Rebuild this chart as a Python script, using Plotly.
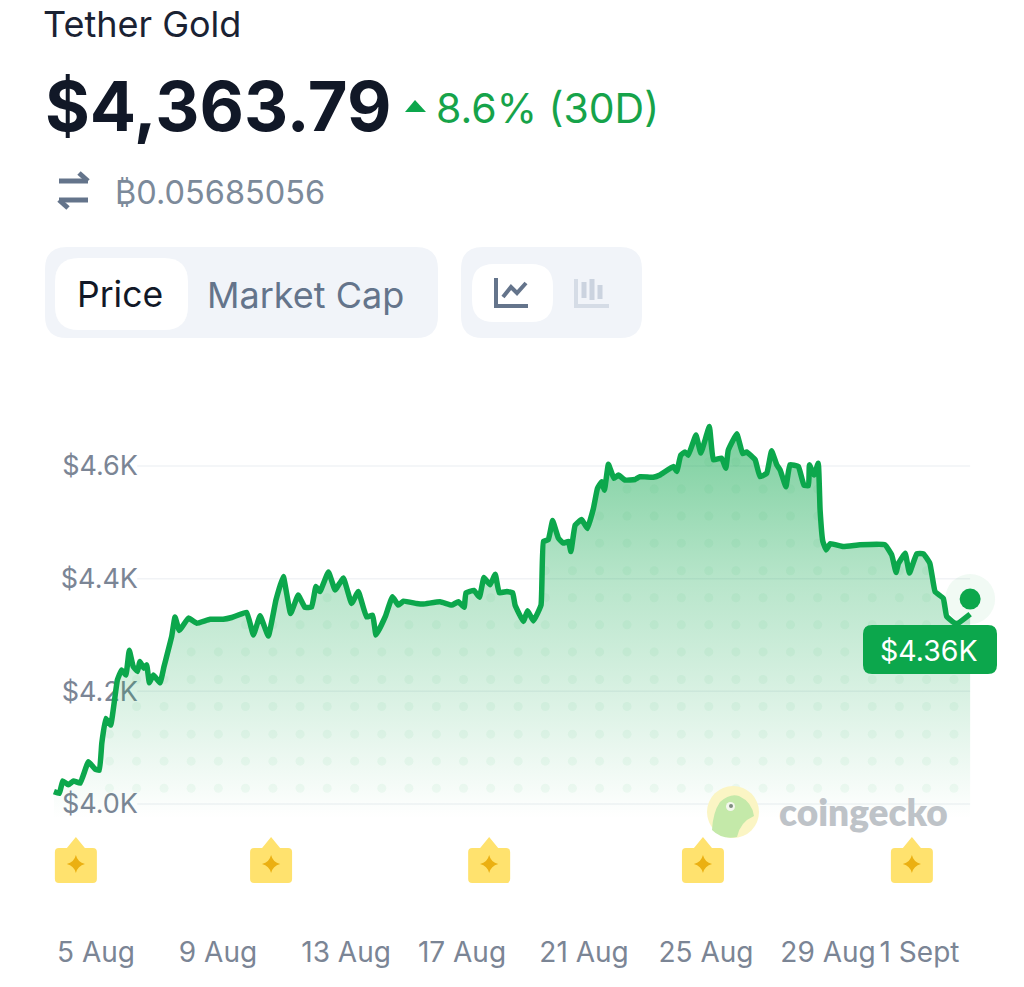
import numpy as np
import plotly.graph_objects as go

# ---------- data ----------
coin_name = "Tether Gold"
price_text = "$4,363.79"
change_text = "8.6% (30D)"
btc_text = "₿0.05685056"
tag_text = "$4.36K"
current_price = 4363.79
last_day = 33.66

# day of August (32 = 1 Sept)
days = [3.62,3.80,3.91,4.09,4.26,4.48,4.75,4.97,5.11,5.19,5.32,5.48,5.70,5.84,5.98,6.09,6.22,6.36,6.44,6.57,
        6.66,6.75,6.88,7.10,7.23,7.48,7.59,7.73,8.03,8.30,8.74,9.17,9.45,9.94,10.16,10.38,10.65,10.90,11.14,11.38,
        11.63,11.85,12.07,12.21,12.34,12.62,12.84,13.11,13.38,13.60,13.87,14.07,14.18,14.48,14.72,14.91,15.08,15.51,15.73,16.28,
        16.66,16.88,17.07,17.13,17.39,17.57,17.72,17.92,18.09,18.22,18.47,18.66,18.74,19.01,19.15,19.34,19.59,19.67,19.83,19.97,
        20.16,20.32,20.49,20.57,20.71,20.92,21.11,21.31,21.44,21.58,21.67,21.80,21.98,22.13,22.34,22.67,22.84,23.27,23.49,23.93,
        24.04,24.17,24.31,24.42,24.67,24.83,25.11,25.24,25.51,25.65,25.73,26.01,26.20,26.33,26.61,26.77,26.99,27.15,27.32,27.43,
        27.62,27.75,28.03,28.21,28.36,28.39,28.54,28.68,28.74,28.83,28.94,29.07,29.50,30.05,30.87,31.09,31.23,31.31,31.53,31.67,
        31.91,32.13,32.34,32.51,32.78,32.89,33.16,33.27,33.66]
prices = [4022,4019,4041,4034,4041,4037,4075,4062,4060,4108,4152,4140,4220,4238,4229,4273,4244,4235,4253,4241,
          4247,4215,4229,4215,4244,4297,4332,4308,4330,4321,4328,4328,4331,4340,4300,4334,4298,4362,4404,4338,
          4371,4349,4350,4386,4377,4412,4380,4401,4356,4377,4332,4335,4300,4332,4368,4353,4360,4356,4355,4359,
          4353,4359,4349,4375,4379,4367,4402,4389,4408,4375,4377,4375,4353,4324,4343,4325,4353,4466,4469,4503,
          4472,4463,4466,4448,4495,4505,4489,4525,4560,4572,4557,4603,4578,4584,4575,4576,4581,4580,4584,4599,
          4590,4619,4625,4619,4655,4623,4670,4611,4614,4596,4628,4657,4622,4625,4611,4581,4587,4627,4602,4593,
          4563,4602,4599,4566,4565,4602,4584,4605,4522,4466,4451,4462,4457,4460,4460,4442,4411,4427,4445,4410,
          4444,4444,4427,4377,4365,4333,4321,4321,4337]

y_ticks = [4000, 4200, 4400, 4600]
y_labels = ["$4.0K", "$4.2K", "$4.4K", "$4.6K"]
x_ticks = [5, 9, 13.2, 17, 21, 25, 29, 32]
x_labels = ["5 Aug", "9 Aug", "13 Aug", "17 Aug", "21 Aug", "25 Aug", "29 Aug", "1 Sept"]
news_days = [4.34, 10.74, 17.89, 24.90, 31.75]

dot_days = [5.44,6.33,7.23,8.12,9.01,9.90,10.80,11.69,12.58,13.48,14.37,15.26,16.16,17.05,17.94,18.84,
            19.73,20.62,21.51,22.41,23.30,24.19,25.09,25.98,26.87,27.77,28.66,29.55,30.45,31.34,32.23,33.13]
dot_levels = [4028,4076,4124,4173,4221,4270,4318,4366,4414,4463,4511,4559,4607]

# ---------- style ----------
W, H = 1024, 987
GREEN = "#0CA74C"
DARK = "#111827"
SLATE = "#64748B"
AXIS_TXT = "#7B8595"
FONT = "Inter"

def fx(p): return p / W
def fy(p): return 1 - p / H

def round_rect(x0, y0, x1, y1, r):
    return (f"M {fx(x0+r)} {fy(y0)} L {fx(x1-r)} {fy(y0)} Q {fx(x1)} {fy(y0)} {fx(x1)} {fy(y0+r)} "
            f"L {fx(x1)} {fy(y1-r)} Q {fx(x1)} {fy(y1)} {fx(x1-r)} {fy(y1)} L {fx(x0+r)} {fy(y1)} "
            f"Q {fx(x0)} {fy(y1)} {fx(x0)} {fy(y1-r)} L {fx(x0)} {fy(y0+r)} Q {fx(x0)} {fy(y0)} {fx(x0+r)} {fy(y0)} Z")

def poly(points, close=False):
    d = "M " + " L ".join(f"{fx(a)} {fy(b)}" for a, b in points)
    return d + (" Z" if close else "")

shapes, notes = [], []

def fill_path(path, color, layer="above"):
    shapes.append(dict(type="path", xref="paper", yref="paper", path=path, fillcolor=color,
                       line=dict(width=0), layer=layer))

def stroke(points, color, width):
    shapes.append(dict(type="path", xref="paper", yref="paper", path=poly(points),
                       line=dict(color=color, width=width), layer="above"))

def label(text, x, y, size, color, anchor="left", weight=400, family=FONT):
    notes.append(dict(text=text, x=fx(x), y=fy(y), xref="paper", yref="paper", showarrow=False,
                      xanchor=anchor, yanchor="middle", borderpad=0,
                      font=dict(size=size, color=color, family=family, weight=weight)))

# header
label(coin_name, 42, 24, 36, "#1A2233")
label(price_text, 44, 106, 68.5, DARK, weight=700)
fill_path(poly([(405, 112), (415, 100), (426, 112)], True), GREEN)
label(change_text, 435, 108, 41, "#16A34A")
stroke([(59, 181), (88, 181)], SLATE, 5)
stroke([(79, 173), (88, 181)], SLATE, 5)
stroke([(59, 200), (88, 200)], SLATE, 5)
stroke([(68, 208), (59, 200)], SLATE, 5)
label(btc_text, 114, 192, 32.5, "#7C8A9A")

# toggle buttons
fill_path(round_rect(45, 247, 438, 338, 22), "#F1F4F9")
fill_path(round_rect(55, 258, 188, 330, 24), "#FFFFFF")
label("Price", 120, 295, 35.5, DARK, anchor="center")
label("Market Cap", 206, 295, 36, SLATE)
fill_path(round_rect(461, 247, 642, 338, 22), "#F1F4F9")
fill_path(round_rect(472, 264, 553, 322, 22), "#FFFFFF")
stroke([(496, 278), (496, 306), (528, 306)], SLATE, 4)
stroke([(503, 297), (511, 287), (517, 293), (526, 283)], SLATE, 4)
stroke([(576, 279), (576, 306), (609, 306)], "#D5DCE6", 4)
for cx, top, bot in [(584, 282, 298), (592, 279, 300), (600, 285, 299)]:
    stroke([(cx, top), (cx, bot)], "#CBD3DF", 5)

# chart gridlines
for v in y_ticks:
    shapes.append(dict(type="line", xref="x", yref="y", x0=6.35, x1=last_day, y0=v, y1=v,
                       line=dict(color="#F1F3F6", width=1.5), layer="below"))

# news flags
for d in news_days:
    shapes.append(dict(type="path", xref="x", yref="paper", xsizemode="pixel", ysizemode="pixel",
                       xanchor=d, yanchor=fy(864), layer="below", fillcolor="#FFE26E", line=dict(width=0),
                       path="M 0 27 L 9 16 L 17 16 Q 21 16 21 12 L 21 -15 Q 21 -19 17 -19 "
                            "L -17 -19 Q -21 -19 -21 -15 L -21 12 Q -21 16 -17 16 L -9 16 Z"))

# watermark
shapes.append(dict(type="circle", xref="paper", yref="paper", x0=fx(707), x1=fx(759), y0=fy(838), y1=fy(786),
                   fillcolor="#FBF5C4", line=dict(width=0), layer="above"))
fill_path(f"M {fx(712)} {fy(830)} Q {fx(713)} {fy(812)} {fx(720)} {fy(802)} Q {fx(730)} {fy(793)} {fx(739)} {fy(796)} "
          f"Q {fx(752)} {fy(802)} {fx(754)} {fy(816)} Q {fx(740)} {fy(822)} {fx(737)} {fy(837)} Q {fx(722)} {fy(840)} {fx(712)} {fy(830)} Z",
          "#C4E9A9")
shapes.append(dict(type="circle", xref="paper", yref="paper", x0=fx(726), x1=fx(735), y0=fy(811), y1=fy(802),
                   fillcolor="#F4F7EE", line=dict(width=0), layer="above"))
shapes.append(dict(type="circle", xref="paper", yref="paper", x0=fx(729), x1=fx(733), y0=fy(808), y1=fy(804),
                   fillcolor="#7E8C80", line=dict(width=0), layer="above"))
label("coingecko", 778, 811, 37, "#BEC3C8", weight=800, family="Lato")

# current price tag
fill_path(round_rect(863, 625, 997, 674, 9), "#0CA74C")
label(tag_text, 929, 650, 28.5, "#FFFFFF", anchor="center")

# ---------- traces ----------
fig = go.Figure()

fig.add_trace(go.Scatter(
    x=days, y=prices, mode="lines", fill="tozeroy", hoverinfo="skip",
    line=dict(color=GREEN, width=5.5, shape="spline", smoothing=0.3),
    fillgradient=dict(type="vertical", start=4670, stop=3975,
                      colorscale=[[0, "rgba(12,167,76,0.55)"], [0.4, "rgba(12,167,76,0.29)"],
                                  [0.7, "rgba(12,167,76,0.15)"], [1, "rgba(12,167,76,0)"]])))

dx, dy = [], []
for d in dot_days:
    top = np.interp(d, days, prices)
    for v in dot_levels:
        if v < top - 15:
            dx.append(d)
            dy.append(v)
fig.add_trace(go.Scatter(x=dx, y=dy, mode="markers", hoverinfo="skip",
                         marker=dict(size=9, color="rgba(12,167,76,0.05)", line=dict(width=0))))

fig.add_trace(go.Scatter(x=[last_day], y=[current_price], mode="markers", hoverinfo="skip", cliponaxis=False,
                         marker=dict(size=50, color="rgba(12,167,76,0.06)", line=dict(width=0))))
fig.add_trace(go.Scatter(x=[last_day], y=[current_price], mode="markers", hoverinfo="skip", cliponaxis=False,
                         marker=dict(size=21, color=GREEN, line=dict(width=0))))

news_level = 3893.5
fig.add_trace(go.Scatter(x=news_days, y=[news_level] * len(news_days), mode="markers", hoverinfo="skip",
                         marker=dict(symbol="star-diamond", size=13, color="#EBB012", line=dict(width=0))))

fig.update_layout(
    width=W, height=H, margin=dict(l=0, r=0, t=0, b=0), autosize=False,
    paper_bgcolor="#FFFFFF", plot_bgcolor="rgba(0,0,0,0)", showlegend=False,
    shapes=shapes, annotations=notes,
    xaxis=dict(domain=[fx(52), fx(1000)], range=[3.557, 34.639], tickmode="array", tickvals=x_ticks,
               ticktext=x_labels, tickangle=0, showgrid=False, zeroline=False, showline=False,
               ticks="outside", ticklen=37, tickcolor="rgba(0,0,0,0)", tickwidth=0,
               tickfont=dict(family=FONT, size=28, color=AXIS_TXT)),
    yaxis=dict(domain=[fy(890), fy(410)], range=[3847.35, 4699.35], tickmode="array", tickvals=y_ticks,
               ticktext=y_labels, showgrid=False, zeroline=False, showline=False, layer="below traces",
               anchor="free", position=fx(138), ticks="",
               tickfont=dict(family=FONT, size=27, color=AXIS_TXT)),
)

fig.write_html("out.html", config=dict(displayModeBar=False),
               post_script="document.body.style.margin='0';document.body.style.overflow='hidden';")
